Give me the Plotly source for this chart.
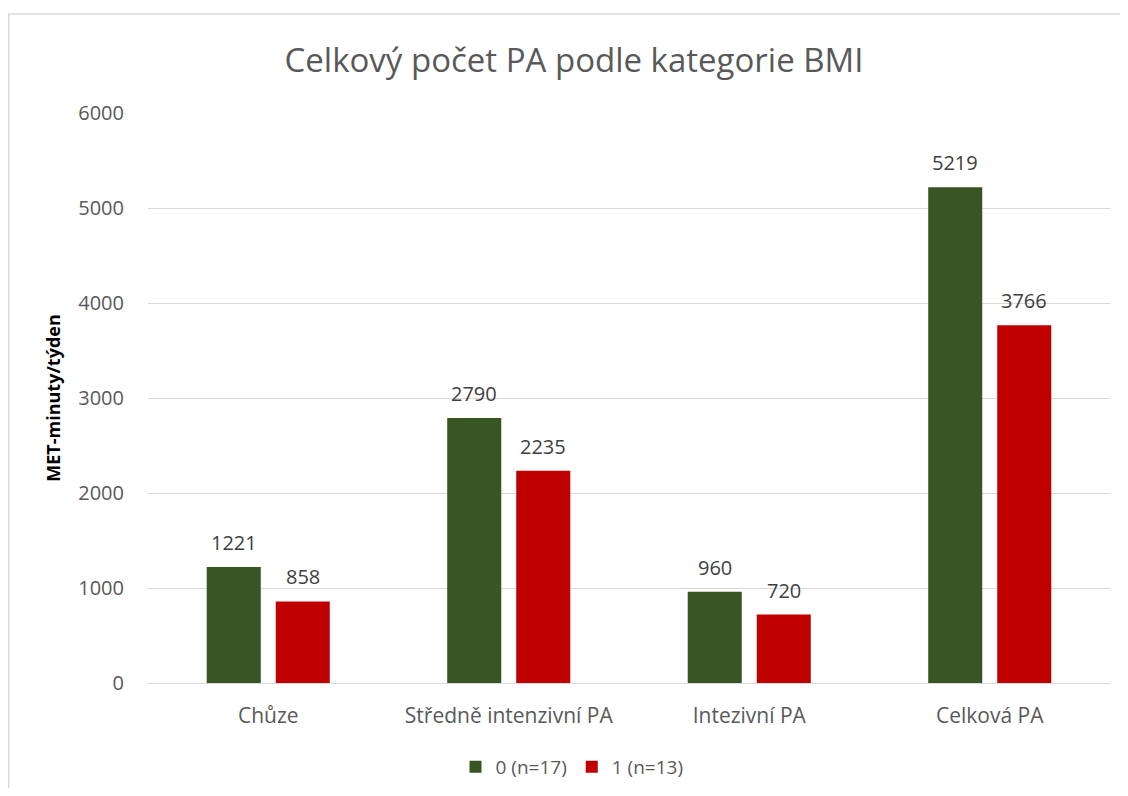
import plotly.graph_objects as go

categories = ["Chůze", "Středně intenzivní PA", "Intezivní PA", "Celková PA"]
series_names = ["0 (n=17)", "1 (n=13)"]
values_0 = [1221, 2790, 960, 5219]
values_1 = [858, 2235, 720, 3766]
colors = ["#375623", "#C00000"]
y_ticks = [0, 1000, 2000, 3000, 4000, 5000, 6000]

FONT = "Open Sans"
W, H = 1112, 780          # page body has an 8px margin
L, R, T, B = 140, 10, 105, 105
PW, PH = W - L - R, H - T - B

fig = go.Figure()
for name, vals, col in zip(series_names, [values_0, values_1], colors):
    fig.add_trace(go.Bar(
        x=categories, y=vals, name=name, marker_color=col,
        marker_line_width=0, offsetgroup=name,
    ))

# data labels placed above bars
for i, (vals, off) in enumerate(zip([values_0, values_1], [-0.5, 0.5])):
    for c, v in zip(categories, vals):
        fig.add_annotation(
            x=c, y=v, xref="x", yref="y", text=str(v), showarrow=False,
            xshift=off * 69, yanchor="bottom", yshift=9,
            font=dict(family=FONT, size=20, color="#404040"),
        )

fig.update_layout(
    width=W, height=H,
    paper_bgcolor="white", plot_bgcolor="white",
    margin=dict(l=L, r=R, t=T, b=B, autoexpand=False),
    barmode="group", bargap=0.426, bargroupgap=0.217,
    title=dict(text="Celkový počet PA podle kategorie BMI",
               font=dict(family=FONT, size=33, color="#595959"),
               x=566 / W, xanchor="center", y=1 - 52 / H, yanchor="middle"),
    showlegend=True,
    legend=dict(orientation="h", x=(572 - 148) / PW, xanchor="center",
                y=(683 - 767) / PH, yanchor="middle",
                font=dict(family=FONT, size=19, color="#595959"),
                traceorder="normal"),
)
fig.update_yaxes(range=[0, 6000], tickvals=y_ticks, showgrid=True,
                 gridcolor="#D9D9D9", gridwidth=1, zeroline=False,
                 showline=False, ticks="", ticklabelstandoff=23,
                 automargin=False,
                 tickfont=dict(family=FONT, size=20, color="#595959"),
                 title=dict(text="<b>MET-minuty/týden</b>", standoff=12,
                            font=dict(family=FONT, size=18, color="#000000")))
fig.update_xaxes(showline=True, linecolor="#D9D9D9", linewidth=1,
                 ticks="", ticklabelstandoff=14, automargin=False,
                 tickfont=dict(family=FONT, size=21, color="#595959"))
fig.add_shape(type="rect", xref="paper", yref="paper",
              x0=(0.75 - L) / PW, x1=(W + 20 - L) / PW,
              y0=(PH + T - (H + 20)) / PH, y1=(PH + T - 6) / PH,
              line=dict(color="#D9D9D9", width=1.5), fillcolor="rgba(0,0,0,0)")

fig.write_html("out.html")
